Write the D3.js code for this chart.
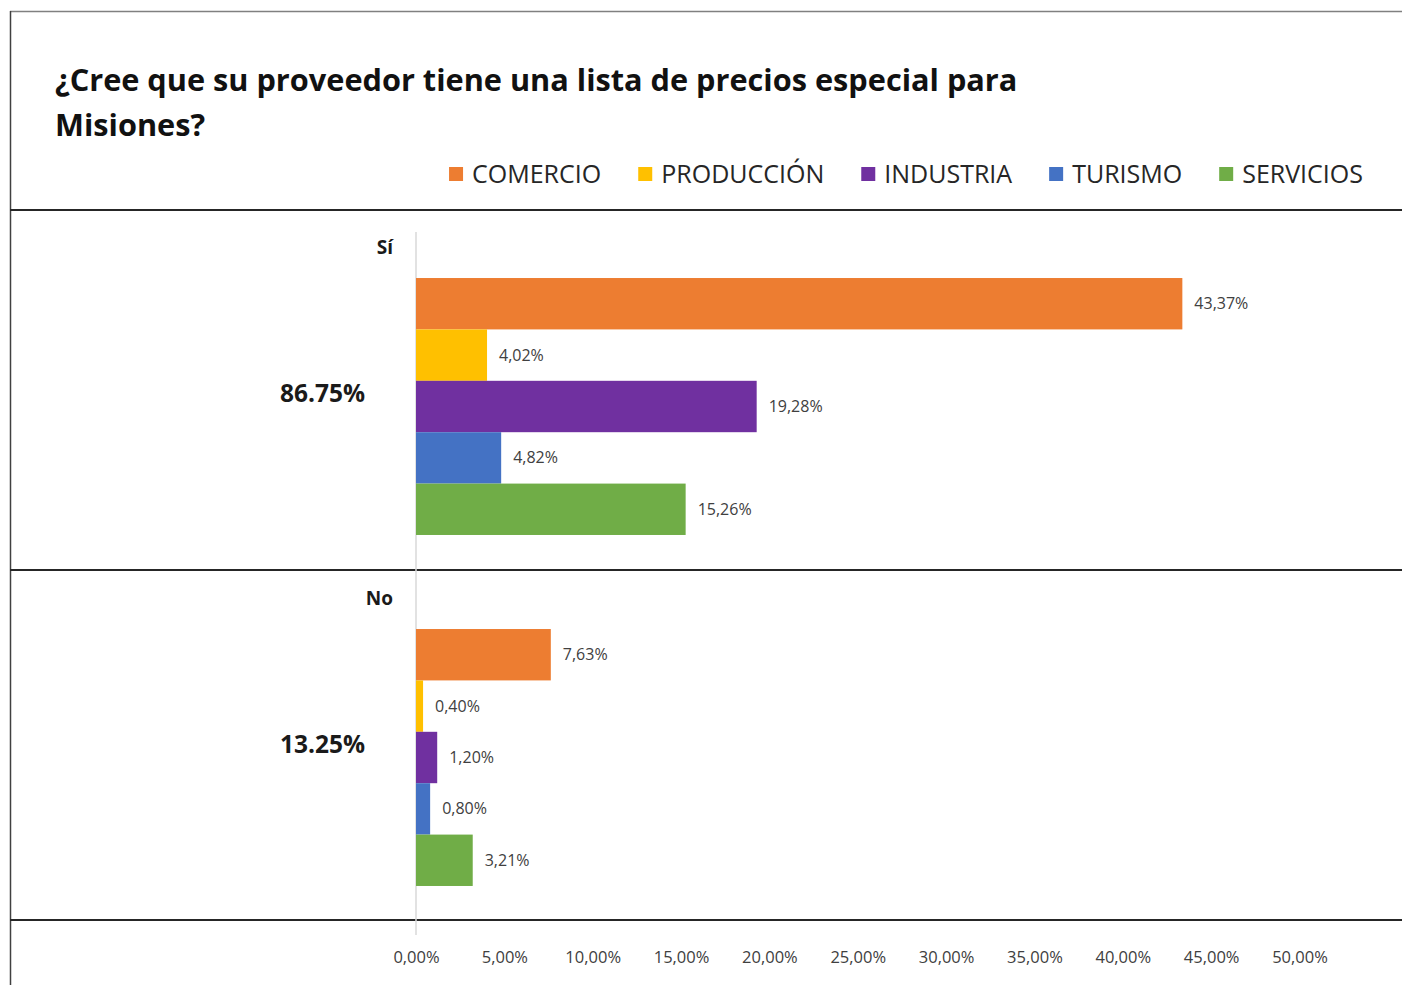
<!DOCTYPE html>
<html><head><meta charset="utf-8">
<script src="https://cdn.jsdelivr.net/npm/d3@7"></script>
<style>body{margin:0;background:#fff}svg{display:block}</style>
</head><body><svg id="c" width="1402" height="985"></svg>
<script>
const groups = ["Sí", "No"];
const groupTotals = ["86.75%", "13.25%"];
const series = ["COMERCIO", "PRODUCCIÓN", "INDUSTRIA", "TURISMO", "SERVICIOS"];
const colors = ["#ED7D31", "#FFC000", "#7030A0", "#4472C4", "#70AD47"];
const valuesSi = [43.37, 4.02, 19.28, 4.82, 15.26];
const valuesNo = [7.63, 0.40, 1.20, 0.80, 3.21];
const xTicks = [0, 5, 10, 15, 20, 25, 30, 35, 40, 45, 50];
const title = ["¿Cree que su proveedor tiene una lista de precios especial para", "Misiones?"];

const values = [valuesSi, valuesNo];
const font = "Open Sans, Noto Sans, sans-serif";
const svg = d3.select("#c");
const fmt = v => v.toFixed(2).replace(".", ",") + "%";

const x = d3.scaleLinear().domain([0, 50]).range([416, 1299.5]);
const y0 = d3.scaleBand().domain(groups).range([231, 933]);
const y1 = d3.scaleBand().domain(series).range([0, y0.bandwidth()]).paddingOuter(0.915);

// frame lines
svg.append("line").attr("x1", 10).attr("x2", 1402).attr("y1", 11.5).attr("y2", 11.5).attr("stroke", "#808080").attr("stroke-width", 1.5);
svg.append("line").attr("x1", 10.5).attr("x2", 10.5).attr("y1", 11).attr("y2", 985).attr("stroke", "#404040").attr("stroke-width", 1.5);
[210, 570, 920].forEach(yy => svg.append("line").attr("x1", 10).attr("x2", 1402).attr("y1", yy).attr("y2", yy).attr("stroke", "#262626").attr("stroke-width", 2));

// title
svg.append("text").attr("x", 55).attr("font-family", font).attr("font-weight", 700).attr("font-size", 30.7).attr("fill", "#111")
  .selectAll("tspan").data(title).join("tspan").attr("x", 55).attr("y", (d, i) => 91 + i * 45).text(d => d);

// legend
const lg = svg.append("g");
let lx = 0;
series.forEach((s, i) => {
  const g = lg.append("g").attr("transform", `translate(${lx},0)`);
  g.append("rect").attr("x", 0).attr("y", 167).attr("width", 14).attr("height", 14).attr("fill", colors[i]);
  const t = g.append("text").attr("x", 23).attr("y", 183).attr("font-family", font).attr("font-size", 25).attr("fill", "#262626").text(s);
  lx += 23 + t.node().getComputedTextLength() + 37;
});
const lw = lx - 37;
lg.attr("transform", `translate(${1363 - lw},0)`);

// axis line
svg.append("line").attr("x1", x(0)).attr("x2", x(0)).attr("y1", 232).attr("y2", 935).attr("stroke", "#d9d9d9").attr("stroke-width", 1.5);

// x axis ticks
const xa = svg.append("g").attr("transform", "translate(0,957)")
  .call(d3.axisBottom(x).tickValues(xTicks).tickSize(0).tickPadding(0).tickFormat(fmt));
xa.select(".domain").remove();
xa.selectAll("text").attr("font-family", font).attr("font-size", 16.5).attr("fill", "#404040").attr("dy", "0.35em");

// groups
groups.forEach((gname, gi) => {
  const gy = y0(gname);
  const g = svg.append("g").attr("transform", `translate(0,${gy})`);
  g.append("text").attr("x", 393).attr("y", 23).attr("text-anchor", "end").attr("font-family", font).attr("font-weight", 700).attr("font-size", 19).attr("fill", "#1a1a1a").text(gname);
  g.append("text").attr("x", 365).attr("y", y0.bandwidth() / 2 - 13).attr("dy", "0.35em").attr("text-anchor", "end").attr("font-family", font).attr("font-weight", 700).attr("font-size", 24.5).attr("fill", "#1a1a1a").text(groupTotals[gi]);
  const data = series.map((s, i) => ({ s, v: values[gi][i], c: colors[i] }));
  g.selectAll("rect").data(data).join("rect")
    .attr("x", x(0)).attr("y", d => y1(d.s)).attr("width", d => x(d.v) - x(0)).attr("height", y1.bandwidth()).attr("fill", d => d.c);
  g.selectAll("text.v").data(data).join("text").attr("class", "v")
    .attr("x", d => x(d.v) + 12).attr("y", d => y1(d.s) + y1.bandwidth() / 2).attr("dy", "0.35em")
    .attr("font-family", font).attr("font-size", 16).attr("fill", "#404040").text(d => fmt(d.v));
});
</script></body></html>
